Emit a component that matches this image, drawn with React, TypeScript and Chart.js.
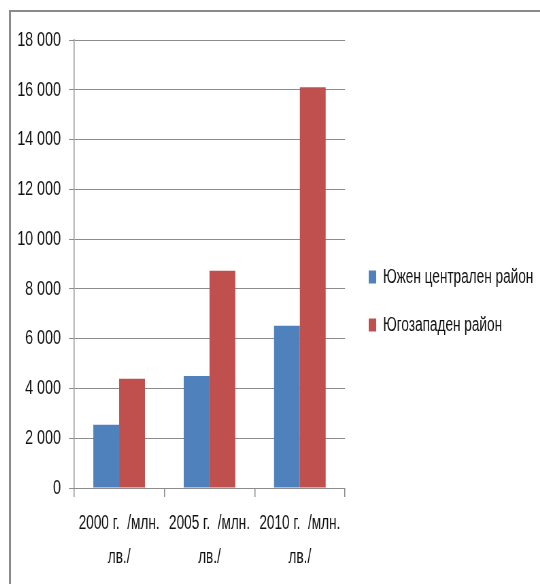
import React, { useEffect, useRef } from "react";
import { Chart, registerables } from "chart.js";

Chart.register(...registerables);

// Categories (years), split into two lines each
const categories: string[][] = [
  ["2000 г.  /млн.", "лв./"],
  ["2005 г.  /млн.", "лв./"],
  ["2010 г.  /млн.", "лв./"],
];

// Series values, млн. лв.
const southCentral: number[] = [2540, 4500, 6520];
const southWest: number[] = [4390, 8730, 16100];
const seriesNames: string[] = ["Южен централен район", "Югозападен район"];

// Value axis
const yMin = 0;
const yMax = 18000;
const yStep = 2000;

const BLUE = "#4F81BD";
const RED = "#C0504D";
const GRID = "#8c8c8c";
const TEXT = "#111111";
const FONT = "'Liberation Sans', Arial, sans-serif";

// Chart is drawn wide and narrowed horizontally for a condensed look
const SQUEEZE = 0.68;
const CANVAS_W = 778;
const CANVAS_H = 572;

// Plot-area geometry in canvas units
const PLOT_LEFT = 92.6;
const PLOT_RIGHT = 491.2;
const PLOT_TOP = 28;
const PLOT_BOTTOM = 476;

// Legend box reserved by the layout; it is widened after layout
const LEGEND_SLOT = 150;
const LEGEND_FONT = 20;
const LEGEND_BOX_W = 11;
const LEGEND_BOX_H = 13;
const LEGEND_PAD = 28;

const formatThousands = (v: number | string): string => {
  const n = Number(v);
  if (n < 1000) return String(n);
  return `${Math.floor(n / 1000)} ${String(n % 1000).padStart(3, "0")}`;
};

// Places the legend block to the right of the plot and lets it use the full remaining width
const legendPlace = {
  id: "legendPlace",
  afterLayout(chart: any) {
    const lg = chart.legend;
    if (!lg) return;
    lg.left = PLOT_RIGHT + 6.8;
    lg.right = CANVAS_W + 40;
    lg.width = lg.right - lg.left;
    lg.top -= 11;
    lg.bottom -= 11;
  },
};

export default function App() {
  const ref = useRef<HTMLCanvasElement>(null);

  useEffect(() => {
    const canvas = ref.current;
    if (!canvas) return;

    const chart = new Chart(canvas, {
      type: "bar",
      data: {
        labels: categories,
        datasets: [
          {
            label: seriesNames[0],
            data: southCentral,
            backgroundColor: BLUE,
            borderWidth: 0,
            categoryPercentage: 2 / 3.5,
            barPercentage: 1,
          },
          {
            label: seriesNames[1],
            data: southWest,
            backgroundColor: RED,
            borderWidth: 0,
            categoryPercentage: 2 / 3.5,
            barPercentage: 1,
          },
        ],
      },
      options: {
        responsive: false,
        animation: false,
        devicePixelRatio: 1,
        layout: {
          padding: {
            top: PLOT_TOP,
            right: CANVAS_W - PLOT_RIGHT - LEGEND_SLOT,
            bottom: 0,
            left: 0,
          },
        },
        plugins: {
          legend: {
            position: "right",
            maxWidth: LEGEND_SLOT,
            labels: {
              boxWidth: LEGEND_BOX_W,
              boxHeight: LEGEND_BOX_H,
              padding: LEGEND_PAD,
              color: TEXT,
              font: { family: FONT, size: LEGEND_FONT },
            },
          },
          tooltip: { enabled: false },
          title: { display: false },
        },
        scales: {
          x: {
            offset: true,
            grid: {
              display: true,
              drawOnChartArea: false,
              drawTicks: true,
              tickLength: 9,
              lineWidth: 1.5,
              color: GRID,
              offset: true,
            },
            border: { display: true, color: GRID, width: 1 },
            ticks: {
              color: TEXT,
              font: { family: FONT, size: 20, lineHeight: 1.7 },
              padding: 9,
              maxRotation: 0,
              autoSkip: false,
            },
            afterFit: (s: any) => {
              s.height = CANVAS_H - PLOT_BOTTOM;
            },
          },
          y: {
            min: yMin,
            max: yMax,
            ticks: {
              stepSize: yStep,
              padding: 11.8,
              color: TEXT,
              font: { family: FONT, size: 21 },
              callback: (v: number | string) => formatThousands(v),
            },
            grid: {
              color: GRID,
              lineWidth: 1,
              tickLength: 7.4,
              drawTicks: true,
            },
            border: { display: true, color: GRID, width: 1.5 },
            afterFit: (s: any) => {
              s.width = PLOT_LEFT;
            },
          },
        },
      },
      plugins: [legendPlace],
    });
    return () => chart.destroy();
  }, []);

  return (
    <div
      style={{
        position: "absolute",
        left: 9,
        top: 10,
        width: 531,
        height: 574,
        boxSizing: "border-box",
        borderTop: "2px solid #8a8a8a",
        borderLeft: "2px solid #8a8a8a",
        overflow: "hidden",
        background: "#fff",
      }}
    >
      <canvas
        ref={ref}
        width={CANVAS_W}
        height={CANVAS_H}
        style={{
          display: "block",
          width: CANVAS_W,
          height: CANVAS_H,
          transform: `scaleX(${SQUEEZE})`,
          transformOrigin: "0 0",
        }}
      />
    </div>
  );
}
